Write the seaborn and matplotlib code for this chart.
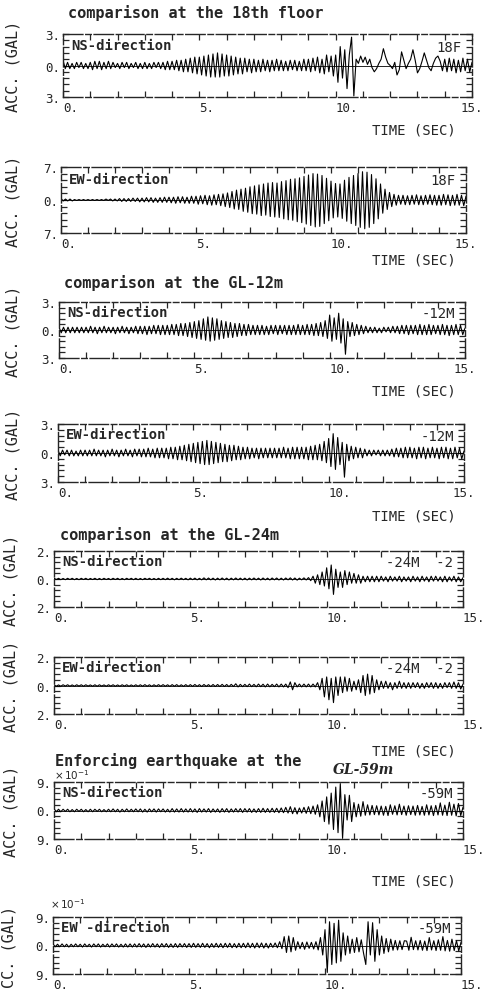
import numpy as np
import pandas as pd
import seaborn as sns
import matplotlib.pyplot as plt

# sample times: 12 samples per second, 0 .. 15 s
t = np.arange(181) / 12

# NS, 18th floor (GAL)
ns_18f = [
    0.5, -0.3, 0.3, -0.3, 0.2, -0.3, 0.3, -0.2, 0.3, -0.3, 0.2, -0.3,
    0.3, -0.4, 0.4, -0.3, 0.4, -0.4, 0.3, -0.3, 0.4, -0.3, 0.3, -0.2,
    0.2, -0.3, 0.3, -0.2, 0.3, -0.3, 0.2, -0.2, 0.3, -0.3, 0.2, -0.3,
    0.3, -0.3, 0.2, -0.3, 0.3, -0.2, 0.3, -0.3, 0.3, -0.4, 0.4, -0.4,
    0.4, -0.4, 0.5, -0.5, 0.5, -0.6, 0.6, -0.6, 0.7, -0.7, 0.8, -0.8,
    0.8, -0.9, 0.9, -1.0, 1.0, -1.1, 1.1, -1.1, 1.2, -1.1, 1.1, -1.0,
    1.0, -1.0, 0.9, -0.9, 0.8, -0.8, 0.7, -0.8, 0.7, -0.6, 0.6, -0.7,
    0.6, -0.6, 0.5, -0.6, 0.6, -0.5, 0.5, -0.6, 0.5, -0.5, 0.6, -0.5,
    0.5, -0.5, 0.4, -0.5, 0.5, -0.4, 0.5, -0.5, 0.4, -0.5, 0.6, -0.5,
    0.6, -0.6, 0.7, -0.5, 0.8, -0.7, 0.6, -0.8, 1.0, -0.6, 0.9, -1.0,
    1.0, -1.6, 1.8, -1.2, 1.5, -2.2, 1.0, 2.7, -2.9, 0.6, 0.2, 0.9,
    0.3, 0.8, 0.1, 0.6, -0.2, -0.6, -0.3, 0.2, 0.6, 1.6, 0.8, 0.2,
    0.0, -0.3, 0.3, -0.9, -0.4, 1.3, 0.5, -0.3, 0.2, 0.6, 1.5, 0.5,
    -0.7, -0.3, 0.4, 1.2, 0.5, -0.2, -0.5, 0.2, 0.7, 0.9, 0.4, -0.5,
    0.6, -0.6, 0.7, -0.5, 0.6, -0.7, 0.5, -0.6, 0.7, -0.5, 0.6, -0.6,
    0.3,
]

# EW, 18th floor
ew_18f = [
    0.3, -0.2, 0.2, -0.2, 0.2, -0.2, 0.1, -0.1, 0.1, -0.1, 0.1, -0.1,
    0.1, -0.1, 0.1, -0.1, 0.1, -0.1, 0.1, -0.1, 0.2, -0.1, 0.2, -0.2,
    0.2, -0.2, 0.3, -0.3, 0.3, -0.3, 0.3, -0.3, 0.4, -0.3, 0.4, -0.4,
    0.4, -0.4, 0.5, -0.4, 0.5, -0.5, 0.4, -0.5, 0.5, -0.5, 0.6, -0.5,
    0.6, -0.6, 0.6, -0.7, 0.7, -0.6, 0.7, -0.7, 0.6, -0.7, 0.8, -0.7,
    0.8, -0.9, 0.9, -0.8, 1.0, -1.0, 0.9, -1.1, 1.1, -1.0, 1.2, -1.2,
    1.3, -1.4, 1.5, -1.6, 1.8, -1.9, 2.1, -2.0, 2.3, -2.4, 2.5, -2.6,
    2.8, -2.9, 3.0, -3.0, 3.2, -3.3, 3.4, -3.2, 3.6, -3.5, 3.7, -3.6,
    3.6, -3.7, 3.9, -4.0, 4.1, -4.2, 4.4, -4.3, 4.5, -4.6, 4.7, -4.8,
    5.0, -5.1, 5.3, -5.4, 5.6, -5.7, 5.5, -5.6, 5.2, -5.0, 4.6, -4.4,
    4.0, -3.8, 3.5, -3.6, 3.4, -3.9, 4.2, -4.5, 4.8, -5.0, 5.2, -5.4,
    5.6, -5.8, 6.0, -6.1, 5.9, -5.8, 5.4, -5.0, 4.5, -4.0, 3.4, -2.8,
    2.3, -2.0, 1.6, -1.4, 1.2, -1.1, 1.0, -0.9, 1.0, -1.0, 0.9, -1.0,
    1.0, -0.9, 1.1, -1.0, 0.9, -1.0, 1.0, -0.9, 1.1, -1.0, 1.0, -1.1,
    1.0, -1.1, 1.2, -1.0, 1.1, -1.2, 1.0, -1.1, 1.2, -1.1, 1.0, -1.2,
    0.8,
]

# NS, GL-12m
ns_12m = [
    0.3, -0.3, 0.3, -0.3, 0.3, -0.3, 0.3, -0.3, 0.3, -0.3, 0.3, -0.3,
    0.3, -0.3, 0.4, -0.3, 0.3, -0.4, 0.3, -0.3, 0.4, -0.3, 0.3, -0.3,
    0.3, -0.4, 0.3, -0.3, 0.4, -0.3, 0.3, -0.4, 0.3, -0.3, 0.4, -0.4,
    0.4, -0.4, 0.4, -0.5, 0.4, -0.4, 0.5, -0.4, 0.5, -0.5, 0.5, -0.5,
    0.5, -0.5, 0.6, -0.5, 0.6, -0.6, 0.7, -0.6, 0.7, -0.7, 0.8, -0.8,
    0.9, -0.9, 1.0, -1.0, 1.2, -1.1, 1.4, -1.2, 1.3, -1.1, 1.2, -1.0,
    1.0, -0.9, 0.9, -0.8, 0.8, -0.8, 0.7, -0.7, 0.7, -0.6, 0.6, -0.6,
    0.6, -0.5, 0.5, -0.5, 0.5, -0.5, 0.5, -0.5, 0.4, -0.5, 0.5, -0.4,
    0.5, -0.5, 0.5, -0.4, 0.5, -0.5, 0.5, -0.5, 0.5, -0.5, 0.6, -0.5,
    0.5, -0.5, 0.6, -0.5, 0.6, -0.6, 0.7, -0.6, 0.8, -0.7, 1.0, -0.9,
    1.6, -1.2, 1.3, -1.0, 1.8, -1.4, 1.2, -2.6, 0.9, -0.7, 0.8, -0.6,
    0.6, -0.5, 0.5, -0.4, 0.4, -0.3, 0.3, -0.3, 0.3, -0.3, 0.2, -0.3,
    0.3, -0.2, 0.3, -0.3, 0.4, -0.3, 0.4, -0.4, 0.5, -0.4, 0.5, -0.5,
    0.5, -0.4, 0.5, -0.5, 0.6, -0.5, 0.5, -0.5, 0.6, -0.5, 0.5, -0.4,
    0.5, -0.5, 0.6, -0.5, 0.5, -0.6, 0.5, -0.5, 0.6, -0.5, 0.5, -0.5,
    0.2,
]

# EW, GL-12m
ew_12m = [
    0.3, -0.3, 0.3, -0.2, 0.3, -0.3, 0.3, -0.3, 0.2, -0.3, 0.3, -0.3,
    0.3, -0.3, 0.3, -0.3, 0.4, -0.3, 0.3, -0.3, 0.3, -0.4, 0.3, -0.3,
    0.4, -0.3, 0.3, -0.4, 0.3, -0.3, 0.4, -0.3, 0.3, -0.4, 0.4, -0.3,
    0.4, -0.4, 0.4, -0.4, 0.5, -0.4, 0.4, -0.5, 0.5, -0.5, 0.5, -0.5,
    0.5, -0.6, 0.6, -0.6, 0.6, -0.7, 0.7, -0.7, 0.8, -0.8, 0.9, -0.9,
    1.0, -1.0, 1.1, -1.1, 1.2, -1.2, 1.3, -1.2, 1.2, -1.1, 1.1, -1.0,
    1.0, -0.9, 0.9, -0.9, 0.8, -0.8, 0.8, -0.7, 0.7, -0.7, 0.6, -0.6,
    0.6, -0.6, 0.5, -0.5, 0.5, -0.6, 0.5, -0.5, 0.5, -0.5, 0.5, -0.5,
    0.5, -0.5, 0.5, -0.5, 0.6, -0.5, 0.5, -0.6, 0.6, -0.6, 0.6, -0.6,
    0.6, -0.6, 0.6, -0.7, 0.7, -0.7, 0.8, -0.7, 0.9, -0.8, 1.2, -1.0,
    1.5, -1.4, 2.0, -1.7, 1.6, -1.2, 1.1, -2.5, 0.9, -0.8, 0.7, -0.6,
    0.6, -0.5, 0.5, -0.5, 0.4, -0.3, 0.3, -0.3, 0.3, -0.2, 0.3, -0.3,
    0.3, -0.3, 0.3, -0.3, 0.4, -0.4, 0.5, -0.4, 0.5, -0.5, 0.6, -0.5,
    0.6, -0.5, 0.5, -0.6, 0.6, -0.5, 0.6, -0.6, 0.5, -0.5, 0.6, -0.5,
    0.5, -0.6, 0.6, -0.5, 0.6, -0.6, 0.5, -0.6, 0.6, -0.5, 0.5, -0.6,
    0.2,
]

# NS, GL-24m
ns_24m = [
    0.06, -0.04, 0.05, -0.05, 0.04, -0.05, 0.05, -0.04, 0.05, -0.05, 0.04, -0.05,
    0.05, -0.04, 0.05, -0.05, 0.04, -0.04, 0.05, -0.05, 0.04, -0.05, 0.05, -0.04,
    0.04, -0.05, 0.05, -0.04, 0.05, -0.05, 0.04, -0.05, 0.05, -0.04, 0.05, -0.05,
    0.05, -0.05, 0.04, -0.05, 0.05, -0.04, 0.05, -0.05, 0.04, -0.05, 0.05, -0.05,
    0.05, -0.05, 0.06, -0.05, 0.05, -0.06, 0.05, -0.05, 0.06, -0.05, 0.05, -0.06,
    0.06, -0.05, 0.06, -0.06, 0.05, -0.06, 0.08, -0.06, 0.07, -0.06, 0.06, -0.07,
    0.06, -0.06, 0.07, -0.06, 0.06, -0.07, 0.06, -0.06, 0.07, -0.06, 0.06, -0.06,
    0.06, -0.07, 0.06, -0.06, 0.07, -0.06, 0.06, -0.07, 0.07, -0.06, 0.06, -0.07,
    0.07, -0.06, 0.07, -0.07, 0.06, -0.07, 0.07, -0.06, 0.08, -0.07, 0.07, -0.08,
    0.06, -0.06, 0.08, -0.07, 0.10, -0.12, 0.20, -0.30, 0.30, -0.40, 0.50, -0.50,
    0.80, -0.70, 1.00, -1.10, 0.70, -0.60, 0.50, -0.60, 0.60, -0.40, 0.50, -0.30,
    0.40, -0.30, 0.30, -0.30, 0.20, -0.20, 0.20, -0.20, 0.20, -0.20, 0.20, -0.20,
    0.20, -0.15, 0.15, -0.20, 0.20, -0.15, 0.15, -0.15, 0.20, -0.20, 0.15, -0.15,
    0.15, -0.20, 0.20, -0.15, 0.15, -0.20, 0.20, -0.15, 0.15, -0.20, 0.20, -0.15,
    0.20, -0.15, 0.15, -0.20, 0.20, -0.20, 0.15, -0.15, 0.20, -0.20, 0.15, -0.20,
    0.10,
]

# EW, GL-24m
ew_24m = [
    0.05, -0.05, 0.04, -0.05, 0.05, -0.04, 0.05, -0.05, 0.04, -0.05, 0.05, -0.04,
    0.05, -0.05, 0.05, -0.04, 0.04, -0.05, 0.05, -0.05, 0.05, -0.04, 0.04, -0.05,
    0.05, -0.04, 0.05, -0.05, 0.04, -0.05, 0.05, -0.04, 0.05, -0.05, 0.04, -0.05,
    0.05, -0.05, 0.05, -0.05, 0.06, -0.05, 0.05, -0.06, 0.05, -0.05, 0.06, -0.05,
    0.06, -0.05, 0.05, -0.06, 0.06, -0.05, 0.06, -0.06, 0.05, -0.06, 0.06, -0.06,
    0.06, -0.06, 0.07, -0.06, 0.06, -0.07, 0.07, -0.06, 0.06, -0.07, 0.07, -0.07,
    0.07, -0.07, 0.08, -0.07, 0.07, -0.08, 0.08, -0.07, 0.12, -0.10, 0.08, -0.08,
    0.08, -0.08, 0.10, -0.08, 0.08, -0.09, 0.10, -0.08, 0.09, -0.10, 0.10, -0.09,
    0.08, -0.08, 0.10, -0.10, 0.10, -0.10, 0.10, -0.15, 0.25, -0.30, 0.20, -0.10,
    0.10, -0.10, 0.10, -0.10, 0.10, -0.10, 0.10, -0.10, 0.20, -0.30, 0.50, -0.80,
    0.60, -1.00, 0.50, -1.20, 0.60, -0.70, 0.60, -0.50, 0.60, -0.40, 0.50, -0.40,
    0.30, -0.30, 0.40, -0.50, 0.70, -0.70, 0.80, -0.60, 0.70, -0.50, 0.40, -0.30,
    0.30, -0.20, 0.30, -0.20, 0.20, -0.30, 0.20, -0.20, 0.30, -0.20, 0.20, -0.20,
    0.20, -0.20, 0.20, -0.15, 0.20, -0.20, 0.15, -0.20, 0.20, -0.15, 0.20, -0.20,
    0.20, -0.20, 0.15, -0.20, 0.20, -0.15, 0.20, -0.20, 0.25, -0.20, 0.20, -0.25,
    0.10,
]

# NS, GL-59m (x 10^-1 GAL)
ns_59m = [
    0.6, -0.4, 0.4, -0.4, 0.4, -0.3, 0.4, -0.4, 0.3, -0.4, 0.4, -0.3,
    0.4, -0.4, 0.3, -0.4, 0.4, -0.4, 0.4, -0.3, 0.4, -0.4, 0.3, -0.4,
    0.4, -0.4, 0.5, -0.4, 0.4, -0.5, 0.4, -0.4, 0.5, -0.4, 0.4, -0.4,
    0.5, -0.4, 0.5, -0.5, 0.4, -0.5, 0.5, -0.4, 0.5, -0.5, 0.5, -0.4,
    0.5, -0.5, 0.4, -0.5, 0.6, -0.5, 0.5, -0.5, 0.6, -0.5, 0.5, -0.5,
    0.6, -0.5, 0.5, -0.6, 0.6, -0.5, 0.5, -0.5, 0.6, -0.6, 0.5, -0.5,
    0.5, -0.6, 0.6, -0.5, 0.6, -0.6, 0.5, -0.5, 0.6, -0.5, 0.6, -0.6,
    0.6, -0.5, 0.6, -0.6, 0.5, -0.6, 0.6, -0.6, 0.7, -0.6, 0.6, -0.6,
    0.7, -0.6, 0.7, -0.7, 0.8, -0.7, 1.0, -0.8, 1.2, -1.0, 0.9, -1.1,
    0.8, -0.8, 1.0, -0.9, 1.2, -1.0, 1.4, -1.2, 1.8, -2.0, 3.0, -3.5,
    4.3, -4.3, 5.5, -6.0, 7.4, -7.0, 8.5, -8.8, 5.0, -3.0, 4.8, -3.5,
    2.5, -2.0, 2.0, -1.8, 2.8, -1.5, 1.8, -1.4, 1.6, -1.3, 1.5, -1.4,
    1.4, -1.5, 1.3, -1.6, 1.8, -1.2, 1.5, -1.4, 2.0, -1.3, 1.4, -1.5,
    1.5, -1.3, 1.4, -1.5, 1.6, -1.4, 1.3, -1.5, 1.8, -1.4, 1.5, -1.6,
    1.6, -1.4, 2.4, -1.5, 1.7, -1.6, 2.6, -1.5, 2.0, -1.7, 2.2, -1.6,
    1.0,
]

# EW, GL-59m (x 10^-1 GAL)
ew_59m = [
    0.5, -0.4, 0.4, -0.4, 0.5, -0.4, 0.4, -0.5, 0.4, -0.4, 0.5, -0.4,
    0.4, -0.5, 0.5, -0.4, 0.4, -0.5, 0.5, -0.4, 0.5, -0.5, 0.4, -0.4,
    0.5, -0.5, 0.5, -0.4, 0.5, -0.5, 0.4, -0.5, 0.5, -0.5, 0.5, -0.5,
    0.5, -0.5, 0.6, -0.5, 0.5, -0.6, 0.5, -0.5, 0.6, -0.5, 0.5, -0.6,
    0.6, -0.5, 0.6, -0.6, 0.5, -0.6, 0.6, -0.6, 0.6, -0.5, 0.6, -0.6,
    0.6, -0.6, 0.7, -0.6, 0.6, -0.6, 0.7, -0.6, 0.6, -0.7, 0.6, -0.6,
    0.7, -0.6, 0.6, -0.7, 0.7, -0.6, 0.7, -0.7, 0.6, -0.7, 0.7, -0.7,
    0.7, -0.7, 0.8, -0.7, 0.7, -0.8, 0.8, -0.7, 0.8, -0.8, 0.7, -0.8,
    0.7, -0.6, 0.8, -0.7, 1.2, -1.0, 2.8, -2.2, 3.0, -2.0, 2.5, -1.5,
    1.2, -1.0, 1.0, -1.2, 1.1, -0.9, 1.0, -1.1, 1.2, -1.4, 2.5, -3.0,
    5.0, -8.5, 7.5, -6.0, 7.0, -5.5, 8.0, -5.0, 4.0, -3.0, 3.0, -2.5,
    2.0, -2.2, 2.5, -2.0, 1.8, -2.4, -6.0, 7.5, -3.0, 7.2, -5.0, 5.0,
    -3.0, 3.0, -2.5, 2.2, -2.0, 2.0, -1.5, 1.6, -1.4, 1.5, -1.3, 1.5,
    1.4, -1.5, 2.6, -1.3, 1.5, -1.4, 1.6, -1.5, 1.4, -1.6, 2.5, -1.4,
    1.5, -1.6, 1.8, -1.5, 2.8, -1.7, 1.6, -1.8, 2.0, -1.6, 1.5, -1.7,
    1.0,
]

x_ticks = [0, 5, 10, 15]
x_tick_labels = ['0.', '5.', '10.', '15.']

sns.set_style('ticks')
plt.rcParams['font.family'] = ['DejaVu Sans Mono', 'DejaVu Sans']

W, H = 485, 1004
fig = plt.figure(figsize=(W / 100, H / 100), dpi=100)


def add_panel(vals, ymax, box, direction, tag, ylab='ACC. (GAL)',
              ylab_x=13, last_ha='left'):
    l, r, top, bot = box
    ax = fig.add_axes([l / W, 1 - bot / H, (r - l) / W, (bot - top) / H])
    df = pd.DataFrame({'t': t, 'acc': vals})
    sns.lineplot(data=df, x='t', y='acc', ax=ax, color='black', lw=0.8)
    ax.axhline(0, color='black', lw=0.6)
    ax.set_xlim(0, 15)
    ax.set_ylim(-ymax, ymax)
    ax.set_xticks(x_ticks, labels=x_tick_labels, ha='left')
    ax.get_xticklabels()[-1].set_ha(last_ha)
    lab = f'{ymax:g}.'
    ax.set_yticks([-ymax, 0, ymax], labels=[lab, '0.', lab])
    ax.set_xticks(np.arange(16), minor=True)
    ax.set_yticks(np.linspace(-ymax, ymax, 11), minor=True)
    ax.tick_params(which='both', direction='in', top=True, right=True,
                   length=4, width=0.9, labelsize=9, pad=2)
    ax.tick_params(axis='x', which='major', pad=3)
    ax.set_xlabel('')
    ax.set_ylabel('')
    for s in ax.spines.values():
        s.set_linewidth(1.0)
        s.set_linestyle((0, (14, 2, 4, 2)))
    ax.text(0.02, 0.82, direction, transform=ax.transAxes, fontsize=10,
            fontweight='bold', va='center', ha='left')
    ax.text(0.975, 0.8, tag, transform=ax.transAxes, fontsize=10,
            va='center', ha='right')
    fig.text(ylab_x / W, 1 - (top + bot) / 2 / H, ylab, rotation=90,
             fontsize=11, ha='center', va='center')
    return ax


def time_label(y, right=456):
    fig.text(right / W, 1 - y / H, 'TIME (SEC)', fontsize=10,
             ha='right', va='center')


def title(x, y, s, **kw):
    fig.text(x / W, 1 - y / H, s, fontsize=11, fontweight='bold',
             ha='left', va='center', **kw)


title(68, 13, 'comparison at the 18th floor')
add_panel(ns_18f, 3, (63, 472, 35, 98), 'NS-direction', '18F', last_ha='center')
time_label(131)

add_panel(ew_18f, 7, (61, 466, 168, 234), 'EW-direction', '18F', last_ha='center')
time_label(260)

title(64, 283, 'comparison at the GL-12m')
add_panel(ns_12m, 3, (59, 465, 303, 359), 'NS-direction', '-12M', last_ha='center')
time_label(392)

add_panel(ew_12m, 3, (58, 464, 425, 483), 'EW-direction', '-12M', last_ha='center')
time_label(517)

title(60, 535, 'comparison at the GL-24m')
add_panel(ns_24m, 2, (54, 463, 552, 608), 'NS-direction', '-24M  -2', ylab_x=11)

add_panel(ew_24m, 2, (54, 463, 658, 715), 'EW-direction', '-24M  -2', ylab_x=11)
time_label(752)

title(55, 761, 'Enforcing earthquake at the')
fig.text(333 / W, 1 - 770 / H, 'GL-59m', fontsize=10, fontweight='bold',
         fontstyle='italic', ha='left', va='center', family='DejaVu Serif')
fig.text(54 / W, 1 - 775 / H, r'$\times\,10^{-1}$', fontsize=7.5,
         ha='left', va='center')
add_panel(ns_59m, 9, (54, 463, 783, 840), 'NS-direction', '-59M', ylab_x=11)
time_label(882)

fig.text(50 / W, 1 - 904 / H, r'$\times\,10^{-1}$', fontsize=7.5,
         ha='left', va='center')
add_panel(ew_59m, 9, (53, 461, 918, 975), 'EW -direction', '-59M',
          ylab='CC. (GAL)', ylab_x=9)

fig.savefig('out.png', dpi=100)
